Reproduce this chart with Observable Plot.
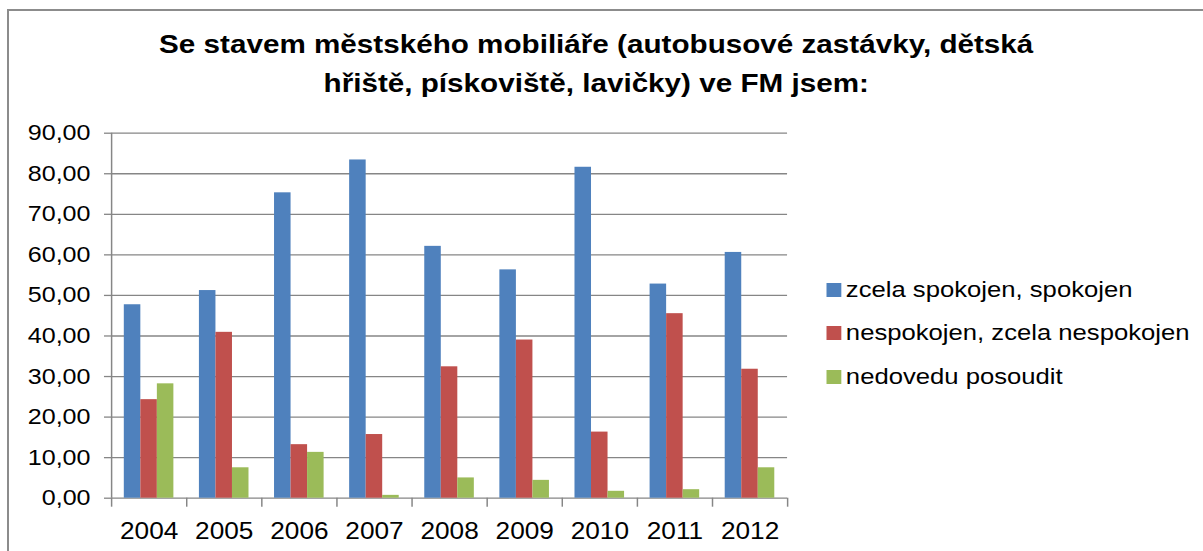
<!DOCTYPE html>
<html>
<head>
<meta charset="utf-8">
<script src="https://cdn.jsdelivr.net/npm/d3@7"></script>
<script src="https://cdn.jsdelivr.net/npm/@observablehq/plot@0.6"></script>
<style>
  body { margin: 0; background: #fff; }
  #page { position: relative; width: 1203px; height: 551px; overflow: hidden; background: #fff; }
  #frame { position: absolute; left: 7px; top: 9px; width: 1300px; height: 700px;
           border-left: 2px solid #8c8c8c; border-top: 2px solid #8c8c8c; }
  #inner { position: absolute; left: 0; top: 0; width: 1055px; height: 551px;
           transform: scaleX(1.14); transform-origin: 0 0;
           font-family: "Liberation Sans", Arial, sans-serif; color: #000; }
  #title { position: absolute; left: 0; top: 25px; width: 1046px; text-align: center;
           font-weight: bold; font-size: 26px; line-height: 39px; }
  #chart { position: absolute; left: 0; top: 110px; }
  #legend { position: absolute; left: 725.4px; top: 268.3px; }
  .row { display: flex; align-items: center; height: 43.3px; font-size: 22.5px; white-space: nowrap; }
  .sw { width: 12.3px; height: 14px; margin-right: 4.3px; }
</style>
</head>
<body>
<div id="page">
  <div id="frame"></div>
  <div id="inner">
    <div id="title">Se stavem městského mobiliáře (autobusové zastávky, dětská<br>hřiště, pískoviště, lavičky) ve FM jsem:</div>
    <div id="chart"></div>
    <div id="legend"></div>
  </div>
</div>
<script>
const years = ["2004", "2005", "2006", "2007", "2008", "2009", "2010", "2011", "2012"];
const series = ["zcela spokojen, spokojen", "nespokojen, zcela nespokojen", "nedovedu posoudit"];
const satisfied    = [47.7, 51.2, 75.3, 83.4, 62.1, 56.3, 81.6, 52.8, 60.6];
const dissatisfied = [24.3, 40.9, 13.2, 15.7, 32.4, 39.0, 16.3, 45.5, 31.8];
const cantSay      = [28.2, 7.5, 11.3, 0.7, 5.0, 4.4, 1.7, 2.1, 7.5];
const yTicks = [0, 10, 20, 30, 40, 50, 60, 70, 80, 90];
const colors = ["#4F81BD", "#C0504D", "#9BBB59"];

const values = [satisfied, dissatisfied, cantSay];
const rows = [];
series.forEach((s, si) => years.forEach((y, yi) => rows.push({series: s, year: y, value: values[si][yi]})));

const W = 700, H = 441, mL = 97.4, mR = 9.6, mT = 22.7, mB = 53.3;
const bw = (W - mL - mR) / years.length;
const barW = bw * 0.22;
const gridColor = "#868686";

const bars = series.map((s, i) => {
  const left = bw / 2 - 1.5 * barW + i * barW;
  return Plot.barY(rows.filter(r => r.series === s), {
    x: "year", y: "value", fill: colors[i],
    insetLeft: left, insetRight: bw - left - barW
  });
});

const chart = Plot.plot({
  width: W, height: H,
  marginLeft: mL, marginRight: mR, marginTop: mT, marginBottom: mB,
  x: {domain: years, padding: 0, round: false},
  y: {domain: [0, 90]},
  style: {fontFamily: '"Liberation Sans", Arial, sans-serif', color: "#000", background: "transparent"},
  marks: [
    Plot.gridY(yTicks, {stroke: gridColor, strokeOpacity: 1, strokeWidth: 1.3}),
    ...bars,
    Plot.axisY({ticks: yTicks, tickFormat: d => d.toFixed(2).replace(".", ","), tickSize: 6.2, tickPadding: 12.3,
                stroke: gridColor, strokeWidth: 1.3, fontSize: 22, label: null}),
    Plot.axisX({tickSize: 0, tickPadding: 24, fontSize: 23, label: null}),
    Plot.ruleX([years[0]], {x: d => d, dx: -bw / 2, stroke: gridColor, strokeWidth: 1.3}),
    Plot.ruleX(years, {x: d => d, dx: -bw / 2, stroke: gridColor, strokeWidth: 1.3,
                       insetTop: H - mT - mB, insetBottom: -9}),
    Plot.ruleX([years[years.length - 1]], {x: d => d, dx: bw / 2, stroke: gridColor, strokeWidth: 1.3,
                       insetTop: H - mT - mB, insetBottom: -9})
  ]
});
document.getElementById("chart").appendChild(chart);

const legend = document.getElementById("legend");
series.forEach((s, i) => {
  const row = document.createElement("div");
  row.className = "row";
  const sw = document.createElement("div");
  sw.className = "sw";
  sw.style.background = colors[i];
  const t = document.createElement("span");
  t.textContent = s;
  row.appendChild(sw);
  row.appendChild(t);
  legend.appendChild(row);
});
</script>
</body>
</html>
